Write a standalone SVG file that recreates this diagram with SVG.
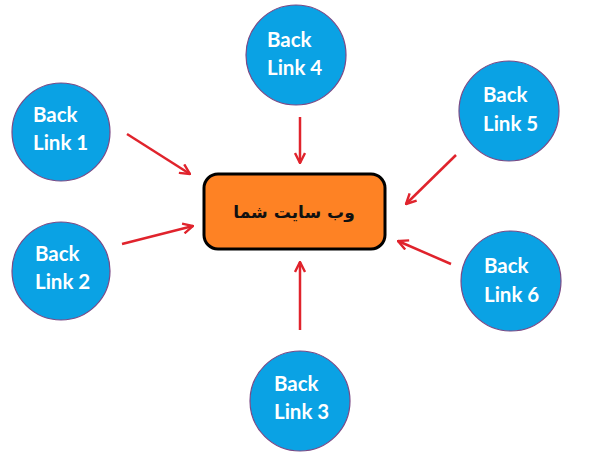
<svg xmlns="http://www.w3.org/2000/svg" width="591" height="457" viewBox="0 0 591 457">
<defs>
<style>
.node circle{fill:#0aa2e4;stroke:#7a4a86;stroke-width:1.2}
.node text{fill:#ffffff;font-family:Lato,"Open Sans",sans-serif;font-weight:bold;font-size:20.5px}
.conn line{stroke:#e0232c;stroke-width:2.5;marker-end:url(#ah)}
</style>
<marker id="ah" viewBox="0 0 12 12" refX="11" refY="6" markerWidth="12" markerHeight="12" markerUnits="userSpaceOnUse" orient="auto">
<path d="M1,1 L11,6 L1,11" fill="none" stroke="#e0232c" stroke-width="2.4"/>
</marker>
</defs>
<rect width="591" height="457" fill="#ffffff"/>
<g class="conn" id="connectors">
<line x1="127" y1="134" x2="190" y2="174"/>
<line x1="122" y1="244" x2="193" y2="226"/>
<line x1="300" y1="117" x2="300" y2="163"/>
<line x1="300" y1="330" x2="300" y2="262"/>
<line x1="456" y1="155" x2="406" y2="204"/>
<line x1="451" y1="264" x2="398" y2="241"/>
</g>
<g id="center">
<rect x="204" y="174" width="181" height="75" rx="14" ry="14" fill="#fe8224" stroke="#000000" stroke-width="3"/>
<text x="294" y="218" text-anchor="middle" font-family="'DejaVu Sans',sans-serif" font-weight="bold" font-size="17" fill="#111111" direction="rtl">وب سایت شما</text>
</g>
<g class="node" id="bl1"><circle cx="61" cy="132" r="49"/><text x="33" y="122">Back</text><text x="33" y="150">Link 1</text></g>
<g class="node" id="bl2"><circle cx="61" cy="271" r="49"/><text x="35" y="261">Back</text><text x="35" y="289">Link 2</text></g>
<g class="node" id="bl3"><circle cx="300" cy="401" r="50"/><text x="274" y="391">Back</text><text x="274" y="419">Link 3</text></g>
<g class="node" id="bl4"><circle cx="296" cy="55" r="50"/><text x="267" y="47">Back</text><text x="267" y="75">Link 4</text></g>
<g class="node" id="bl5"><circle cx="509" cy="111" r="50"/><text x="483" y="102">Back</text><text x="483" y="131">Link 5</text></g>
<g class="node" id="bl6"><circle cx="511" cy="281" r="50"/><text x="484" y="273">Back</text><text x="484" y="302">Link 6</text></g>
</svg>
